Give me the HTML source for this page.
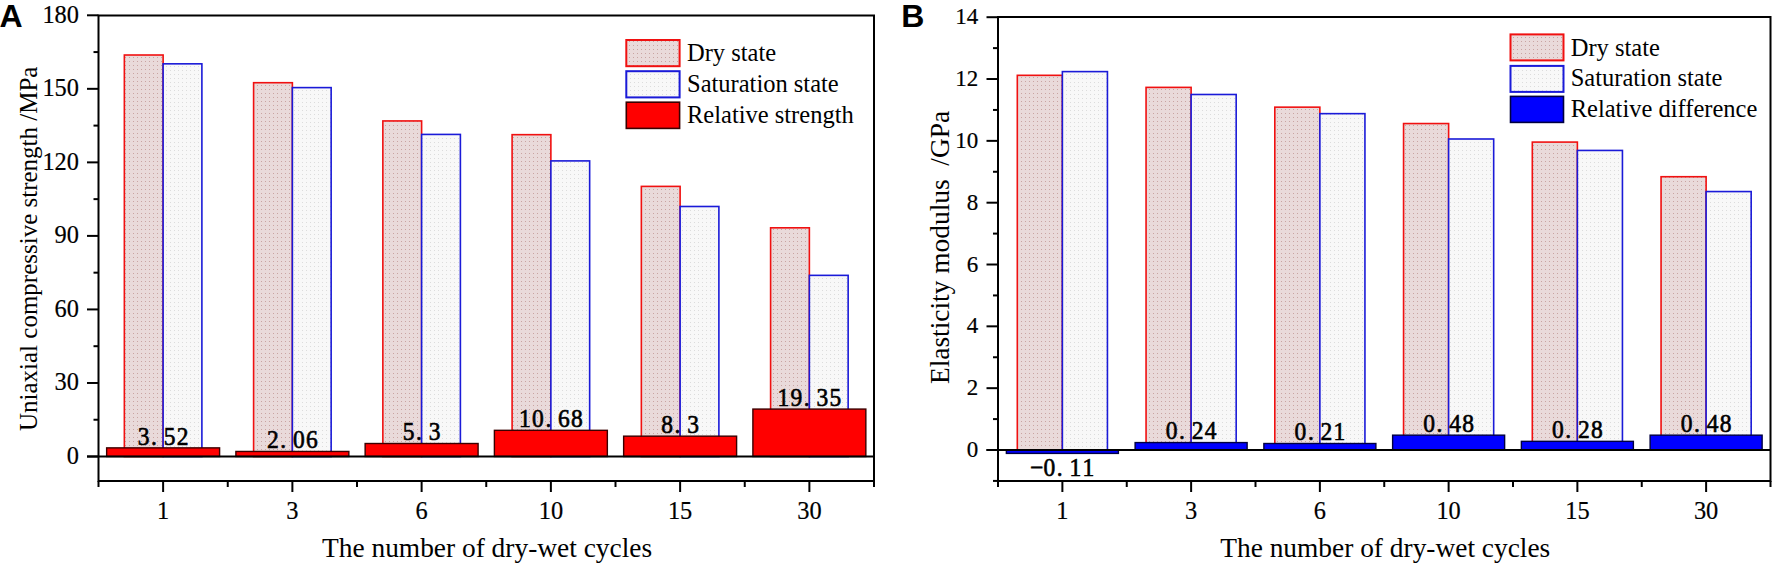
<!DOCTYPE html>
<html><head><meta charset="utf-8"><title>Dry-wet cycles</title>
<style>
html,body{margin:0;padding:0;background:#fff;}
body{width:1772px;height:566px;overflow:hidden;}
svg{display:block;}
.tk{font-family:"Liberation Serif", "Noto Serif CJK SC", serif;font-size:24.4px;fill:#000;stroke:#000;stroke-width:0.2px;}
.ttl{font-family:"Liberation Serif", "Noto Serif CJK SC", serif;font-size:27.4px;fill:#000;}
.leg{font-family:"Liberation Serif", "Noto Serif CJK SC", serif;font-size:24.5px;fill:#000;}
.val{font-family:"Liberation Serif", "Noto Serif CJK SC", serif;font-size:23.5px;fill:#000;stroke:#000;stroke-width:0.6px;}
.let{font-family:"Liberation Sans", sans-serif;font-weight:bold;font-size:32px;fill:#000;}
</style></head>
<body>
<svg width="1772" height="566" viewBox="0 0 1772 566">
<defs>
<pattern id="pdry" patternUnits="userSpaceOnUse" width="4" height="4">
<rect width="4" height="4" fill="#e9dada"/>
<rect x="1" y="1" width="1" height="1" fill="#c9a4a2"/>
</pattern>
<pattern id="psat" patternUnits="userSpaceOnUse" width="4" height="4">
<rect width="4" height="4" fill="#f8f8f8"/>
<rect x="2" y="2" width="1" height="1" fill="#dcdcdc"/>
</pattern>
</defs>
<rect width="1772" height="566" fill="#fff"/>
<rect x="124.35" y="55.01" width="38.77" height="401.49" fill="url(#pdry)" stroke="#f01010" stroke-width="1.6"/>
<rect x="163.12" y="63.83" width="38.77" height="392.67" fill="url(#psat)" stroke="#1a1ad8" stroke-width="1.6"/>
<rect x="253.60" y="82.71" width="38.77" height="373.79" fill="url(#pdry)" stroke="#f01010" stroke-width="1.6"/>
<rect x="292.38" y="87.61" width="38.77" height="368.89" fill="url(#psat)" stroke="#1a1ad8" stroke-width="1.6"/>
<rect x="382.85" y="120.94" width="38.77" height="335.56" fill="url(#pdry)" stroke="#f01010" stroke-width="1.6"/>
<rect x="421.62" y="134.42" width="38.77" height="322.08" fill="url(#psat)" stroke="#1a1ad8" stroke-width="1.6"/>
<rect x="512.10" y="134.67" width="38.77" height="321.83" fill="url(#pdry)" stroke="#f01010" stroke-width="1.6"/>
<rect x="550.88" y="160.90" width="38.77" height="295.60" fill="url(#psat)" stroke="#1a1ad8" stroke-width="1.6"/>
<rect x="641.35" y="186.39" width="38.77" height="270.11" fill="url(#pdry)" stroke="#f01010" stroke-width="1.6"/>
<rect x="680.12" y="206.49" width="38.77" height="250.01" fill="url(#psat)" stroke="#1a1ad8" stroke-width="1.6"/>
<rect x="770.60" y="227.81" width="38.77" height="228.69" fill="url(#pdry)" stroke="#f01010" stroke-width="1.6"/>
<rect x="809.38" y="275.36" width="38.77" height="181.14" fill="url(#psat)" stroke="#1a1ad8" stroke-width="1.6"/>
<rect x="106.64" y="447.87" width="112.96" height="8.63" fill="#ff0000" stroke="#3a0000" stroke-width="1.4"/>
<rect x="235.89" y="451.45" width="112.96" height="5.05" fill="#ff0000" stroke="#3a0000" stroke-width="1.4"/>
<rect x="365.14" y="443.51" width="112.96" height="12.99" fill="#ff0000" stroke="#3a0000" stroke-width="1.4"/>
<rect x="494.39" y="430.32" width="112.96" height="26.18" fill="#ff0000" stroke="#3a0000" stroke-width="1.4"/>
<rect x="623.64" y="436.16" width="112.96" height="20.34" fill="#ff0000" stroke="#3a0000" stroke-width="1.4"/>
<rect x="752.89" y="409.07" width="112.96" height="47.43" fill="#ff0000" stroke="#3a0000" stroke-width="1.4"/>
<line x1="87.00" y1="456.50" x2="874.00" y2="456.50" stroke="#000" stroke-width="2.0"/>
<rect x="98.50" y="15.50" width="775.50" height="465.50" fill="none" stroke="#000" stroke-width="2.0"/>
<line x1="87.00" y1="456.50" x2="98.50" y2="456.50" stroke="#000" stroke-width="2.0"/>
<text transform="translate(79.00,463.98) scale(1,1.025)" text-anchor="end" class="tk" style="font-size:24.4px">0</text>
<line x1="87.00" y1="382.97" x2="98.50" y2="382.97" stroke="#000" stroke-width="2.0"/>
<text transform="translate(79.00,390.44) scale(1,1.025)" text-anchor="end" class="tk" style="font-size:24.4px">30</text>
<line x1="87.00" y1="309.43" x2="98.50" y2="309.43" stroke="#000" stroke-width="2.0"/>
<text transform="translate(79.00,316.91) scale(1,1.025)" text-anchor="end" class="tk" style="font-size:24.4px">60</text>
<line x1="87.00" y1="235.90" x2="98.50" y2="235.90" stroke="#000" stroke-width="2.0"/>
<text transform="translate(79.00,243.38) scale(1,1.025)" text-anchor="end" class="tk" style="font-size:24.4px">90</text>
<line x1="87.00" y1="162.37" x2="98.50" y2="162.37" stroke="#000" stroke-width="2.0"/>
<text transform="translate(79.00,169.84) scale(1,1.025)" text-anchor="end" class="tk" style="font-size:24.4px">120</text>
<line x1="87.00" y1="88.83" x2="98.50" y2="88.83" stroke="#000" stroke-width="2.0"/>
<text transform="translate(79.00,96.31) scale(1,1.025)" text-anchor="end" class="tk" style="font-size:24.4px">150</text>
<line x1="87.00" y1="15.30" x2="98.50" y2="15.30" stroke="#000" stroke-width="2.0"/>
<text transform="translate(79.00,22.78) scale(1,1.025)" text-anchor="end" class="tk" style="font-size:24.4px">180</text>
<line x1="93.50" y1="419.73" x2="98.50" y2="419.73" stroke="#000" stroke-width="2.0"/>
<line x1="93.50" y1="346.20" x2="98.50" y2="346.20" stroke="#000" stroke-width="2.0"/>
<line x1="93.50" y1="272.67" x2="98.50" y2="272.67" stroke="#000" stroke-width="2.0"/>
<line x1="93.50" y1="199.13" x2="98.50" y2="199.13" stroke="#000" stroke-width="2.0"/>
<line x1="93.50" y1="125.60" x2="98.50" y2="125.60" stroke="#000" stroke-width="2.0"/>
<line x1="93.50" y1="52.07" x2="98.50" y2="52.07" stroke="#000" stroke-width="2.0"/>
<line x1="98.50" y1="481.00" x2="98.50" y2="487.00" stroke="#000" stroke-width="2.0"/>
<line x1="227.75" y1="481.00" x2="227.75" y2="487.00" stroke="#000" stroke-width="2.0"/>
<line x1="357.00" y1="481.00" x2="357.00" y2="487.00" stroke="#000" stroke-width="2.0"/>
<line x1="486.25" y1="481.00" x2="486.25" y2="487.00" stroke="#000" stroke-width="2.0"/>
<line x1="615.50" y1="481.00" x2="615.50" y2="487.00" stroke="#000" stroke-width="2.0"/>
<line x1="744.75" y1="481.00" x2="744.75" y2="487.00" stroke="#000" stroke-width="2.0"/>
<line x1="874.00" y1="481.00" x2="874.00" y2="487.00" stroke="#000" stroke-width="2.0"/>
<line x1="163.12" y1="481.00" x2="163.12" y2="492.00" stroke="#000" stroke-width="2.0"/>
<text transform="translate(163.12,519.4) scale(1,1.025)" text-anchor="middle" class="tk">1</text>
<line x1="292.38" y1="481.00" x2="292.38" y2="492.00" stroke="#000" stroke-width="2.0"/>
<text transform="translate(292.38,519.4) scale(1,1.025)" text-anchor="middle" class="tk">3</text>
<line x1="421.62" y1="481.00" x2="421.62" y2="492.00" stroke="#000" stroke-width="2.0"/>
<text transform="translate(421.62,519.4) scale(1,1.025)" text-anchor="middle" class="tk">6</text>
<line x1="550.88" y1="481.00" x2="550.88" y2="492.00" stroke="#000" stroke-width="2.0"/>
<text transform="translate(550.88,519.4) scale(1,1.025)" text-anchor="middle" class="tk">10</text>
<line x1="680.12" y1="481.00" x2="680.12" y2="492.00" stroke="#000" stroke-width="2.0"/>
<text transform="translate(680.12,519.4) scale(1,1.025)" text-anchor="middle" class="tk">15</text>
<line x1="809.38" y1="481.00" x2="809.38" y2="492.00" stroke="#000" stroke-width="2.0"/>
<text transform="translate(809.38,519.4) scale(1,1.025)" text-anchor="middle" class="tk">30</text>
<text transform="translate(0,444.57) scale(1,1.1)" x="137.75 151.12 163.75 176.75" y="0" class="val">3.52</text>
<text transform="translate(0,448.15) scale(1,1.1)" x="267.00 280.38 293.00 306.00" y="0" class="val">2.06</text>
<text transform="translate(0,440.21) scale(1,1.1)" x="402.75 416.12 428.75" y="0" class="val">5.3</text>
<text transform="translate(0,427.02) scale(1,1.1)" x="519.00 532.00 545.38 558.00 571.00" y="0" class="val">10.68</text>
<text transform="translate(0,432.86) scale(1,1.1)" x="661.25 674.62 687.25" y="0" class="val">8.3</text>
<text transform="translate(0,405.77) scale(1,1.1)" x="777.50 790.50 803.88 816.50 829.50" y="0" class="val">19.35</text>
<text x="487.05" y="557.2" text-anchor="middle" class="ttl">The number of dry-wet cycles</text>
<text transform="translate(37.00,248.80) rotate(-90)" text-anchor="middle" class="ttl" style="font-size:25px;white-space:pre" xml:space="preserve">Uniaxial compressive strength /MPa</text>
<rect x="626.30" y="40.00" width="53.30" height="26.20" fill="url(#pdry)" stroke="#f01010" stroke-width="2"/>
<text x="687.00" y="61.00" class="leg">Dry state</text>
<rect x="626.30" y="71.20" width="53.30" height="26.20" fill="url(#psat)" stroke="#1a1ad8" stroke-width="2"/>
<text x="687.00" y="92.30" class="leg">Saturation state</text>
<rect x="626.30" y="102.20" width="53.30" height="26.20" fill="#ff0000" stroke="#3a0000" stroke-width="1.6"/>
<text x="687.00" y="123.00" class="leg">Relative strength</text>
<text x="-0.5" y="26.6" class="let">A</text>
<rect x="1017.31" y="75.32" width="45.06" height="374.68" fill="url(#pdry)" stroke="#f01010" stroke-width="1.6"/>
<rect x="1062.38" y="71.61" width="45.06" height="378.39" fill="url(#psat)" stroke="#1a1ad8" stroke-width="1.6"/>
<rect x="1146.06" y="87.38" width="45.06" height="362.62" fill="url(#pdry)" stroke="#f01010" stroke-width="1.6"/>
<rect x="1191.12" y="94.49" width="45.06" height="355.51" fill="url(#psat)" stroke="#1a1ad8" stroke-width="1.6"/>
<rect x="1274.81" y="107.16" width="45.06" height="342.84" fill="url(#pdry)" stroke="#f01010" stroke-width="1.6"/>
<rect x="1319.88" y="113.65" width="45.06" height="336.35" fill="url(#psat)" stroke="#1a1ad8" stroke-width="1.6"/>
<rect x="1403.56" y="123.55" width="45.06" height="326.45" fill="url(#pdry)" stroke="#f01010" stroke-width="1.6"/>
<rect x="1448.62" y="139.00" width="45.06" height="311.00" fill="url(#psat)" stroke="#1a1ad8" stroke-width="1.6"/>
<rect x="1532.31" y="142.09" width="45.06" height="307.91" fill="url(#pdry)" stroke="#f01010" stroke-width="1.6"/>
<rect x="1577.38" y="150.44" width="45.06" height="299.56" fill="url(#psat)" stroke="#1a1ad8" stroke-width="1.6"/>
<rect x="1661.06" y="176.72" width="45.06" height="273.28" fill="url(#pdry)" stroke="#f01010" stroke-width="1.6"/>
<rect x="1706.12" y="191.56" width="45.06" height="258.44" fill="url(#psat)" stroke="#1a1ad8" stroke-width="1.6"/>
<rect x="1006.37" y="450.00" width="112.01" height="3.40" fill="#0000ff" stroke="#000040" stroke-width="1.4"/>
<rect x="1135.12" y="442.58" width="112.01" height="7.42" fill="#0000ff" stroke="#000040" stroke-width="1.4"/>
<rect x="1263.87" y="443.51" width="112.01" height="6.49" fill="#0000ff" stroke="#000040" stroke-width="1.4"/>
<rect x="1392.62" y="435.16" width="112.01" height="14.84" fill="#0000ff" stroke="#000040" stroke-width="1.4"/>
<rect x="1521.37" y="441.34" width="112.01" height="8.66" fill="#0000ff" stroke="#000040" stroke-width="1.4"/>
<rect x="1650.12" y="435.16" width="112.01" height="14.84" fill="#0000ff" stroke="#000040" stroke-width="1.4"/>
<line x1="986.50" y1="450.00" x2="1770.50" y2="450.00" stroke="#000" stroke-width="2.0"/>
<rect x="998.00" y="17.00" width="772.50" height="464.00" fill="none" stroke="#000" stroke-width="2.0"/>
<line x1="986.50" y1="450.00" x2="998.00" y2="450.00" stroke="#000" stroke-width="2.0"/>
<text transform="translate(978.30,457.00) scale(1,1.025)" text-anchor="end" class="tk" style="font-size:23.0px">0</text>
<line x1="986.50" y1="388.17" x2="998.00" y2="388.17" stroke="#000" stroke-width="2.0"/>
<text transform="translate(978.30,395.17) scale(1,1.025)" text-anchor="end" class="tk" style="font-size:23.0px">2</text>
<line x1="986.50" y1="326.34" x2="998.00" y2="326.34" stroke="#000" stroke-width="2.0"/>
<text transform="translate(978.30,333.35) scale(1,1.025)" text-anchor="end" class="tk" style="font-size:23.0px">4</text>
<line x1="986.50" y1="264.51" x2="998.00" y2="264.51" stroke="#000" stroke-width="2.0"/>
<text transform="translate(978.30,271.52) scale(1,1.025)" text-anchor="end" class="tk" style="font-size:23.0px">6</text>
<line x1="986.50" y1="202.69" x2="998.00" y2="202.69" stroke="#000" stroke-width="2.0"/>
<text transform="translate(978.30,209.69) scale(1,1.025)" text-anchor="end" class="tk" style="font-size:23.0px">8</text>
<line x1="986.50" y1="140.86" x2="998.00" y2="140.86" stroke="#000" stroke-width="2.0"/>
<text transform="translate(978.30,147.86) scale(1,1.025)" text-anchor="end" class="tk" style="font-size:23.0px">10</text>
<line x1="986.50" y1="79.03" x2="998.00" y2="79.03" stroke="#000" stroke-width="2.0"/>
<text transform="translate(978.30,86.03) scale(1,1.025)" text-anchor="end" class="tk" style="font-size:23.0px">12</text>
<line x1="986.50" y1="17.20" x2="998.00" y2="17.20" stroke="#000" stroke-width="2.0"/>
<text transform="translate(978.30,24.20) scale(1,1.025)" text-anchor="end" class="tk" style="font-size:23.0px">14</text>
<line x1="993.00" y1="480.91" x2="998.00" y2="480.91" stroke="#000" stroke-width="2.0"/>
<line x1="993.00" y1="419.09" x2="998.00" y2="419.09" stroke="#000" stroke-width="2.0"/>
<line x1="993.00" y1="357.26" x2="998.00" y2="357.26" stroke="#000" stroke-width="2.0"/>
<line x1="993.00" y1="295.43" x2="998.00" y2="295.43" stroke="#000" stroke-width="2.0"/>
<line x1="993.00" y1="233.60" x2="998.00" y2="233.60" stroke="#000" stroke-width="2.0"/>
<line x1="993.00" y1="171.77" x2="998.00" y2="171.77" stroke="#000" stroke-width="2.0"/>
<line x1="993.00" y1="109.94" x2="998.00" y2="109.94" stroke="#000" stroke-width="2.0"/>
<line x1="993.00" y1="48.11" x2="998.00" y2="48.11" stroke="#000" stroke-width="2.0"/>
<line x1="998.00" y1="481.00" x2="998.00" y2="487.00" stroke="#000" stroke-width="2.0"/>
<line x1="1126.75" y1="481.00" x2="1126.75" y2="487.00" stroke="#000" stroke-width="2.0"/>
<line x1="1255.50" y1="481.00" x2="1255.50" y2="487.00" stroke="#000" stroke-width="2.0"/>
<line x1="1384.25" y1="481.00" x2="1384.25" y2="487.00" stroke="#000" stroke-width="2.0"/>
<line x1="1513.00" y1="481.00" x2="1513.00" y2="487.00" stroke="#000" stroke-width="2.0"/>
<line x1="1641.75" y1="481.00" x2="1641.75" y2="487.00" stroke="#000" stroke-width="2.0"/>
<line x1="1770.50" y1="481.00" x2="1770.50" y2="487.00" stroke="#000" stroke-width="2.0"/>
<line x1="1062.38" y1="481.00" x2="1062.38" y2="492.00" stroke="#000" stroke-width="2.0"/>
<text transform="translate(1062.38,519.4) scale(1,1.025)" text-anchor="middle" class="tk">1</text>
<line x1="1191.12" y1="481.00" x2="1191.12" y2="492.00" stroke="#000" stroke-width="2.0"/>
<text transform="translate(1191.12,519.4) scale(1,1.025)" text-anchor="middle" class="tk">3</text>
<line x1="1319.88" y1="481.00" x2="1319.88" y2="492.00" stroke="#000" stroke-width="2.0"/>
<text transform="translate(1319.88,519.4) scale(1,1.025)" text-anchor="middle" class="tk">6</text>
<line x1="1448.62" y1="481.00" x2="1448.62" y2="492.00" stroke="#000" stroke-width="2.0"/>
<text transform="translate(1448.62,519.4) scale(1,1.025)" text-anchor="middle" class="tk">10</text>
<line x1="1577.38" y1="481.00" x2="1577.38" y2="492.00" stroke="#000" stroke-width="2.0"/>
<text transform="translate(1577.38,519.4) scale(1,1.025)" text-anchor="middle" class="tk">15</text>
<line x1="1706.12" y1="481.00" x2="1706.12" y2="492.00" stroke="#000" stroke-width="2.0"/>
<text transform="translate(1706.12,519.4) scale(1,1.025)" text-anchor="middle" class="tk">30</text>
<text transform="translate(0,476.40) scale(1,1.1)" x="1030.38 1043.50 1056.88 1069.50 1082.50" y="0" class="val">&#8722;0.11</text>
<text transform="translate(0,439.28) scale(1,1.1)" x="1165.75 1179.12 1191.75 1204.75" y="0" class="val">0.24</text>
<text transform="translate(0,440.21) scale(1,1.1)" x="1294.50 1307.88 1320.50 1333.50" y="0" class="val">0.21</text>
<text transform="translate(0,431.86) scale(1,1.1)" x="1423.25 1436.62 1449.25 1462.25" y="0" class="val">0.48</text>
<text transform="translate(0,438.04) scale(1,1.1)" x="1552.00 1565.38 1578.00 1591.00" y="0" class="val">0.28</text>
<text transform="translate(0,431.86) scale(1,1.1)" x="1680.75 1694.12 1706.75 1719.75" y="0" class="val">0.48</text>
<text x="1385.25" y="557.2" text-anchor="middle" class="ttl">The number of dry-wet cycles</text>
<text transform="translate(949.00,247.50) rotate(-90)" text-anchor="middle" class="ttl" style="font-size:27.4px;white-space:pre" xml:space="preserve">Elasticity modulus  /GPa</text>
<rect x="1510.50" y="34.40" width="53.00" height="26.00" fill="url(#pdry)" stroke="#f01010" stroke-width="2"/>
<text x="1570.70" y="55.60" class="leg">Dry state</text>
<rect x="1510.50" y="65.90" width="53.00" height="26.00" fill="url(#psat)" stroke="#1a1ad8" stroke-width="2"/>
<text x="1570.70" y="86.10" class="leg">Saturation state</text>
<rect x="1510.50" y="96.40" width="53.00" height="26.00" fill="#0000ff" stroke="#000040" stroke-width="1.6"/>
<text x="1570.70" y="116.60" class="leg">Relative difference</text>
<text x="901.3" y="26.5" class="let">B</text>
</svg>
</body></html>
